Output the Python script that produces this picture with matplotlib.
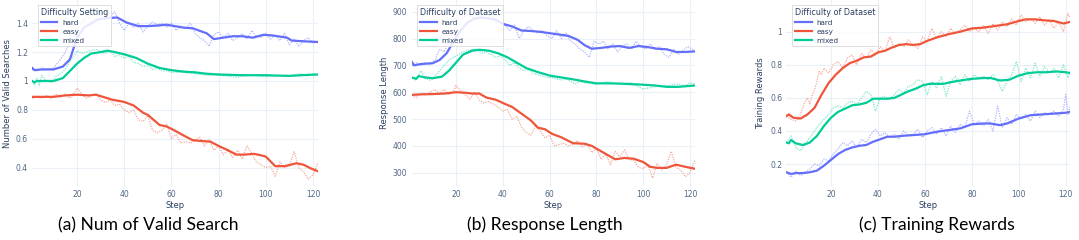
import matplotlib
matplotlib.use("Agg")
import matplotlib.pyplot as plt
import numpy as np

W, H = 1079, 240
HARD_C, EASY_C, MIXED_C = "#636EFA", "#EF553B", "#00CC96"
TICK_C, TITLE_C, GRID_C = "#506784", "#2a3f5f", "#EBF0F8"

# ---------------- Panel (a) Num of Valid Search ----------------
a_hard_s_x = [1, 2, 5, 10, 14, 17, 20, 23, 26, 28, 30, 33, 37, 41, 46, 50, 55, 58, 65, 69, 75, 78, 82, 86, 90, 94.5, 99, 103, 109, 111, 116, 122]
a_hard_s_y = [1.09, 1.075, 1.08, 1.08, 1.10, 1.15, 1.30, 1.37, 1.40, 1.42, 1.43, 1.435, 1.44, 1.405, 1.38, 1.38, 1.385, 1.39, 1.37, 1.365, 1.33, 1.29, 1.30, 1.31, 1.31, 1.30, 1.32, 1.315, 1.30, 1.28, 1.275, 1.27]
a_hard_r_x = [1, 3, 5, 7, 10, 13, 15, 18, 21, 24, 26, 28, 30, 32, 34, 36, 38, 40, 42, 44, 46, 48, 50, 52, 54, 56, 58, 60, 62, 64, 66, 68, 70, 72, 74, 76, 78, 80, 82, 84, 86, 88, 90, 92, 94, 96, 98, 100, 102, 104, 106, 108, 110, 112, 114, 116, 118, 120, 122]
a_hard_r_y = [1.08, 1.07, 1.09, 1.08, 1.09, 1.15, 1.20, 1.30, 1.38, 1.44, 1.44, 1.43, 1.46, 1.44, 1.45, 1.48, 1.40, 1.35, 1.40, 1.37, 1.40, 1.34, 1.38, 1.41, 1.39, 1.40, 1.37, 1.40, 1.35, 1.38, 1.36, 1.40, 1.33, 1.30, 1.28, 1.24, 1.32, 1.34, 1.30, 1.33, 1.28, 1.30, 1.33, 1.29, 1.35, 1.31, 1.30, 1.33, 1.29, 1.32, 1.28, 1.33, 1.25, 1.29, 1.24, 1.28, 1.30, 1.26, 1.28]
a_easy_s_x = [1, 5, 10, 15, 20, 25, 28, 31, 35, 40, 44, 48, 50, 55, 58, 61, 66, 69, 72, 76.5, 80, 84, 87.5, 91, 95, 98, 100, 104, 108, 113, 116, 119, 122]
a_easy_s_y = [0.89, 0.89, 0.89, 0.90, 0.905, 0.90, 0.905, 0.89, 0.87, 0.855, 0.83, 0.78, 0.765, 0.695, 0.685, 0.66, 0.615, 0.59, 0.585, 0.58, 0.55, 0.52, 0.49, 0.49, 0.495, 0.485, 0.476, 0.41, 0.41, 0.43, 0.42, 0.395, 0.375]
a_easy_r_x = [1, 3, 5, 7, 9, 11, 13, 15, 17, 19, 20, 22, 24, 26, 28, 30, 32, 34, 36, 38, 40, 42, 44, 46, 48, 50, 52, 54, 56, 58, 60, 62, 64, 66, 68, 70, 72, 74, 76, 78, 80, 82, 84, 86, 88, 90, 92, 94, 96, 98, 100, 102, 104, 106, 108, 110, 112, 114, 116, 118, 120, 122]
a_easy_r_y = [0.88, 0.89, 0.88, 0.90, 0.88, 0.91, 0.89, 0.91, 0.88, 0.92, 0.95, 0.91, 0.88, 0.90, 0.91, 0.87, 0.85, 0.87, 0.83, 0.84, 0.80, 0.78, 0.80, 0.73, 0.72, 0.76, 0.66, 0.64, 0.66, 0.70, 0.60, 0.63, 0.57, 0.58, 0.57, 0.59, 0.61, 0.55, 0.59, 0.52, 0.55, 0.49, 0.52, 0.47, 0.52, 0.46, 0.55, 0.50, 0.44, 0.42, 0.40, 0.41, 0.34, 0.44, 0.40, 0.41, 0.51, 0.40, 0.37, 0.32, 0.35, 0.43]
a_mixed_s_x = [1, 2, 3, 5, 10, 14, 17, 20, 23, 26, 30, 33, 36, 40, 45, 50, 55, 60, 65, 70, 75, 80, 90, 100, 110, 115, 122]
a_mixed_s_y = [1.0, 0.99, 1.0, 1.0, 1.0, 1.02, 1.07, 1.12, 1.16, 1.19, 1.20, 1.21, 1.20, 1.185, 1.16, 1.12, 1.09, 1.075, 1.065, 1.06, 1.05, 1.045, 1.04, 1.04, 1.035, 1.04, 1.045]
a_mixed_r_x = [1, 2, 3, 4, 5, 7, 9, 11, 13, 15, 17, 19, 20, 22, 24, 26, 28, 30, 32, 34, 36, 38, 40, 42, 44, 46, 48, 50, 52, 54, 56, 58, 60, 65, 70, 75, 80, 85, 88, 90, 95, 100, 105, 110, 115, 118, 120, 122]
a_mixed_r_y = [1.0, 0.97, 1.02, 0.97, 1.04, 1.0, 0.99, 1.03, 1.05, 1.08, 1.14, 1.18, 1.21, 1.19, 1.20, 1.21, 1.22, 1.20, 1.19, 1.21, 1.17, 1.18, 1.16, 1.17, 1.13, 1.12, 1.10, 1.11, 1.08, 1.09, 1.07, 1.07, 1.06, 1.06, 1.05, 1.04, 1.04, 1.03, 1.025, 1.035, 1.04, 1.03, 1.035, 1.04, 1.05, 1.035, 1.05, 1.04]

# ---------------- Panel (b) Response Length ----------------
b_hard_s_x = [1, 2, 5, 10, 13, 16, 19, 22, 25, 28, 31, 34, 37, 40, 44, 48, 52, 56, 60, 64, 68, 72, 75, 78, 82, 86, 90, 94, 98, 102, 106, 110, 114, 118, 122]
b_hard_s_y = [715, 700, 705, 708, 720, 745, 790, 830, 860, 875, 878, 875, 870, 855, 845, 830, 828, 825, 820, 815, 810, 795, 775, 762, 765, 770, 772, 765, 772, 768, 762, 760, 750, 750, 752]
b_hard_r_x = [1, 3, 5, 7, 9, 11, 13, 15, 17, 19, 21, 23, 25, 27, 29, 31, 33, 35, 37, 39, 41, 43, 45, 47, 49, 51, 53, 55, 57, 59, 61, 63, 65, 67, 69, 71, 73, 75, 77, 79, 81, 83, 85, 87, 89, 91, 93, 95, 97, 99, 101, 103, 105, 107, 109, 111, 113, 115, 117, 119, 121, 122]
b_hard_r_y = [700, 710, 700, 710, 705, 720, 760, 750, 790, 830, 860, 880, 890, 880, 870, 880, 870, 900, 860, 825, 850, 830, 850, 800, 830, 845, 830, 820, 830, 810, 800, 830, 800, 820, 790, 780, 760, 750, 730, 790, 780, 790, 760, 780, 750, 770, 780, 760, 790, 770, 760, 780, 760, 770, 740, 730, 760, 740, 755, 770, 760, 755]
b_easy_s_x = [1, 5, 10, 15, 20, 24, 27, 30, 33, 37, 40, 44, 48, 52, 55, 58, 61, 65, 70, 75, 78, 82, 86, 88, 92, 96, 100, 103, 106, 110, 114, 118, 122]
b_easy_s_y = [590, 592, 593, 595, 600, 598, 595, 595, 580, 572, 560, 545, 520, 495, 468, 462, 445, 432, 410, 408, 400, 380, 360, 350, 355, 352, 340, 322, 318, 318, 330, 322, 315]
b_easy_r_x = [1, 3, 5, 7, 9, 11, 13, 15, 17, 19, 20, 22, 24, 26, 28, 30, 32, 34, 36, 38, 40, 42, 44, 46, 48, 50, 52, 54, 56, 58, 60, 62, 64, 66, 68, 70, 72, 74, 76, 78, 80, 82, 84, 86, 88, 90, 92, 94, 96, 98, 100, 102, 104, 106, 108, 110, 112, 114, 116, 118, 120, 122]
b_easy_r_y = [590, 580, 595, 590, 600, 610, 595, 610, 590, 605, 625, 605, 590, 575, 600, 570, 560, 565, 555, 545, 530, 535, 500, 510, 470, 450, 440, 475, 455, 430, 440, 400, 405, 410, 400, 405, 420, 395, 410, 375, 390, 350, 370, 330, 380, 360, 385, 350, 345, 320, 315, 330, 280, 335, 310, 330, 380, 320, 310, 285, 300, 345]
b_mixed_s_x = [1, 3, 4, 7, 10, 14, 17, 20, 23, 27, 30, 34, 38, 42, 46, 50, 55, 60, 65, 70, 75, 80, 85, 90, 95, 100, 105, 110, 115, 122]
b_mixed_s_y = [655, 650, 660, 655, 652, 658, 680, 710, 740, 755, 758, 755, 745, 730, 710, 690, 675, 662, 655, 648, 640, 633, 633, 632, 630, 628, 625, 620, 620, 625]
b_mixed_r_x = [1, 2, 3, 5, 7, 9, 11, 13, 15, 17, 19, 21, 23, 25, 27, 29, 31, 33, 35, 37, 39, 41, 43, 45, 47, 49, 51, 53, 55, 57, 59, 61, 63, 65, 67, 69, 71, 73, 75, 80, 85, 90, 95, 98, 100, 105, 110, 115, 118, 120, 122]
b_mixed_r_y = [660, 650, 645, 680, 650, 645, 660, 680, 700, 720, 730, 740, 750, 755, 760, 760, 745, 750, 740, 730, 735, 720, 700, 710, 690, 680, 685, 670, 665, 660, 655, 655, 650, 645, 650, 640, 630, 640, 635, 630, 640, 630, 635, 620, 612, 620, 625, 630, 625, 635, 630]

# ---------------- Panel (c) Training Rewards ----------------
c_hard_s_x = [1, 3, 5, 8, 11, 14, 17, 20, 23, 26, 29, 32, 35, 38, 41, 44, 47, 50, 55, 60, 65, 70, 75, 80, 85, 88, 92, 95, 100, 105, 110, 115, 120, 122]
c_hard_s_y = [0.15, 0.14, 0.145, 0.145, 0.15, 0.16, 0.19, 0.225, 0.26, 0.285, 0.30, 0.31, 0.315, 0.335, 0.35, 0.365, 0.365, 0.37, 0.375, 0.38, 0.395, 0.405, 0.415, 0.44, 0.445, 0.445, 0.435, 0.445, 0.475, 0.495, 0.50, 0.505, 0.51, 0.515]
c_hard_r_x = [1, 3, 5, 7, 9, 11, 13, 15, 17, 19, 21, 23, 25, 27, 29, 31, 33, 35, 37, 39, 41, 43, 45, 47, 49, 51, 53, 55, 57, 59, 61, 63, 65, 67, 69, 71, 73, 75, 77, 79, 81, 83, 85, 87, 89, 91, 93, 95, 97, 99, 101, 103, 105, 107, 109, 111, 113, 115, 117, 119, 120, 121, 122]
c_hard_r_y = [0.15, 0.12, 0.16, 0.13, 0.15, 0.17, 0.20, 0.19, 0.23, 0.22, 0.26, 0.29, 0.33, 0.31, 0.34, 0.30, 0.35, 0.33, 0.38, 0.41, 0.37, 0.39, 0.36, 0.38, 0.35, 0.40, 0.37, 0.38, 0.41, 0.36, 0.40, 0.42, 0.38, 0.42, 0.37, 0.43, 0.39, 0.44, 0.42, 0.52, 0.44, 0.46, 0.43, 0.47, 0.40, 0.55, 0.42, 0.48, 0.44, 0.50, 0.47, 0.50, 0.46, 0.52, 0.48, 0.51, 0.50, 0.52, 0.49, 0.53, 0.62, 0.50, 0.56]
c_easy_s_x = [1, 2, 4, 7, 10, 13, 16, 19, 22, 25, 28, 31, 34, 37, 40, 43, 46, 49, 52, 55, 58, 61, 65, 70, 75, 80, 85, 90, 95, 100, 103, 107, 110, 115, 119, 122]
c_easy_s_y = [0.49, 0.50, 0.48, 0.475, 0.50, 0.54, 0.62, 0.69, 0.74, 0.78, 0.81, 0.825, 0.845, 0.85, 0.875, 0.885, 0.905, 0.92, 0.925, 0.92, 0.925, 0.945, 0.965, 0.985, 1.0, 1.02, 1.025, 1.035, 1.045, 1.065, 1.075, 1.075, 1.07, 1.065, 1.05, 1.06]
c_easy_r_x = [1, 3, 5, 7, 9, 10, 11, 12, 13, 14, 15, 16, 17, 19, 21, 23, 25, 27, 29, 31, 33, 35, 37, 39, 41, 43, 45, 47, 49, 51, 53, 55, 57, 59, 61, 63, 65, 67, 69, 71, 73, 75, 77, 79, 81, 83, 85, 87, 89, 91, 93, 95, 97, 99, 101, 103, 105, 107, 109, 111, 113, 115, 117, 119, 121, 122]
c_easy_r_y = [0.49, 0.47, 0.46, 0.50, 0.58, 0.60, 0.56, 0.62, 0.65, 0.70, 0.76, 0.74, 0.78, 0.75, 0.80, 0.82, 0.78, 0.84, 0.86, 0.80, 0.87, 0.84, 0.89, 0.86, 0.91, 0.88, 0.97, 0.90, 0.93, 0.91, 0.95, 0.92, 0.90, 0.97, 0.94, 1.02, 0.96, 1.0, 0.97, 1.02, 0.99, 1.01, 1.04, 1.0, 1.02, 1.0, 1.04, 0.99, 1.05, 1.01, 1.06, 1.03, 1.08, 1.04, 1.10, 1.06, 1.08, 1.05, 1.09, 1.04, 1.07, 1.02, 1.06, 1.0, 1.11, 1.08]
c_mixed_s_x = [1, 2, 3, 5, 8, 11, 14, 17, 20, 23, 26, 29, 32, 35, 38, 41, 44, 47, 50, 53, 56, 59, 62, 65, 68, 71, 75, 80, 85, 88, 92, 96, 100, 104, 108, 112, 116, 120, 122]
c_mixed_s_y = [0.33, 0.325, 0.345, 0.325, 0.315, 0.33, 0.37, 0.43, 0.48, 0.515, 0.535, 0.555, 0.56, 0.57, 0.595, 0.595, 0.595, 0.60, 0.62, 0.64, 0.655, 0.675, 0.685, 0.685, 0.685, 0.695, 0.705, 0.715, 0.72, 0.72, 0.705, 0.71, 0.735, 0.75, 0.755, 0.755, 0.76, 0.755, 0.75]
c_mixed_r_x = [1, 3, 5, 7, 9, 11, 13, 15, 17, 19, 21, 23, 25, 27, 29, 31, 33, 35, 37, 39, 41, 43, 45, 47, 49, 51, 53, 55, 57, 59, 61, 63, 65, 67, 69, 71, 73, 75, 77, 79, 81, 83, 85, 87, 89, 91, 93, 95, 97, 99, 101, 103, 105, 107, 109, 111, 113, 115, 117, 119, 121, 122]
c_mixed_r_y = [0.33, 0.37, 0.30, 0.28, 0.32, 0.36, 0.40, 0.44, 0.47, 0.50, 0.54, 0.55, 0.54, 0.57, 0.58, 0.56, 0.60, 0.64, 0.62, 0.52, 0.60, 0.61, 0.59, 0.62, 0.65, 0.63, 0.67, 0.68, 0.71, 0.70, 0.62, 0.70, 0.66, 0.73, 0.61, 0.70, 0.73, 0.68, 0.74, 0.70, 0.74, 0.72, 0.73, 0.71, 0.74, 0.70, 0.64, 0.70, 0.74, 0.82, 0.70, 0.78, 0.72, 0.81, 0.73, 0.79, 0.75, 0.78, 0.72, 0.80, 0.72, 0.77]

series_names = ["hard", "easy", "mixed"]
x_ticks = [20, 40, 60, 80, 100, 120]
a_yticks = [0.4, 0.6, 0.8, 1.0, 1.2, 1.4]
a_ylabels = ["0.4", "0.6", "0.8", "1", "1.2", "1.4"]
b_yticks = [300, 400, 500, 600, 700, 800, 900]
b_ylabels = ["300", "400", "500", "600", "700", "800", "900"]
c_yticks = [0.2, 0.4, 0.6, 0.8, 1.0]
c_ylabels = ["0.2", "0.4", "0.6", "0.8", "1"]

panels = [
    dict(px=(32.2, 317.7), ylim=(0.2725, 1.561), ylabel="Number of Valid Searches", ylab_x=-0.072,
         legend="Difficulty Setting", caption="(a) Num of Valid Search", cap_x=148,
         yt=a_yticks, yl=a_ylabels,
         data=[(a_hard_s_x, a_hard_s_y, a_hard_r_x, a_hard_r_y),
               (a_easy_s_x, a_easy_s_y, a_easy_r_x, a_easy_r_y),
               (a_mixed_s_x, a_mixed_s_y, a_mixed_r_x, a_mixed_r_y)]),
    dict(px=(411.5, 694.7), ylim=(250.5, 943.6), ylabel="Response Length", ylab_x=-0.081,
         legend="Difficulty of Dataset", caption="(b) Response Length", cap_x=545,
         yt=b_yticks, yl=b_ylabels,
         data=[(b_hard_s_x, b_hard_s_y, b_hard_r_x, b_hard_r_y),
               (b_easy_s_x, b_easy_s_y, b_easy_r_x, b_easy_r_y),
               (b_mixed_s_x, b_mixed_s_y, b_mixed_r_x, b_mixed_r_y)]),
    dict(px=(786.4, 1070.4), ylim=(0.067, 1.192), ylabel="Training Rewards", ylab_x=-0.074,
         legend="Difficulty of Dataset", caption="(c) Training Rewards", cap_x=937,
         yt=c_yticks, yl=c_ylabels,
         data=[(c_hard_s_x, c_hard_s_y, c_hard_r_x, c_hard_r_y),
               (c_easy_s_x, c_easy_s_y, c_easy_r_x, c_easy_r_y),
               (c_mixed_s_x, c_mixed_s_y, c_mixed_r_x, c_mixed_r_y)]),
]
colors = [HARD_C, EASY_C, MIXED_C]

fig = plt.figure(figsize=(W / 100, H / 100), dpi=100)
top_px, bot_px = 0, 186
for p in panels:
    x0, x1 = p["px"]
    ax = fig.add_axes([x0 / W, 1 - bot_px / H, (x1 - x0) / W, (bot_px - top_px) / H])
    ax.set_xlim(1, 122)
    ax.set_ylim(*p["ylim"])
    for s in ax.spines.values():
        s.set_visible(False)
    ax.set_xticks(x_ticks)
    ax.set_yticks(p["yt"])
    ax.set_yticklabels(p["yl"])
    ax.tick_params(length=0, labelsize=5.5, colors=TICK_C, pad=3)
    ax.grid(True, color=GRID_C, linewidth=0.8)
    ax.set_axisbelow(True)
    handles = []
    for (sx, sy, rx, ry), c, n in zip(p["data"], colors, series_names):
        ax.plot(rx, ry, color=c, alpha=0.5, linewidth=0.9, linestyle=(0, (1, 1)))
        h, = ax.plot(sx, sy, color=c, linewidth=1.6, label=n)
        handles.append(h)
    ax.set_xlabel("Step", fontsize=6, color=TITLE_C)
    ax.xaxis.set_label_coords(0.5, -0.08)
    ax.set_ylabel(p["ylabel"], fontsize=6, color=TITLE_C)
    ax.yaxis.set_label_coords(p["ylab_x"], 0.5)
    leg = ax.legend(handles=handles, title=p["legend"], loc="upper left",
                    bbox_to_anchor=(0.021, 0.973), fontsize=5.2, title_fontsize=5.8,
                    frameon=True, fancybox=False, handlelength=2.3, borderpad=0.35,
                    labelspacing=0.42, handletextpad=0.7, borderaxespad=0)
    leg.get_frame().set_edgecolor("#d8d8d8")
    leg.get_frame().set_linewidth(0.7)
    leg.get_frame().set_alpha(0.85)
    leg._legend_box.align = "left"
    for t in leg.get_texts():
        t.set_color(TITLE_C)
    leg.get_title().set_color(TITLE_C)
    fig.text(p["cap_x"] / W, 1 - 225 / H, p["caption"], ha="center", va="center",
             fontsize=12.6, family="Lato", color="black")

fig.savefig("out.png", dpi=100, facecolor="white")
